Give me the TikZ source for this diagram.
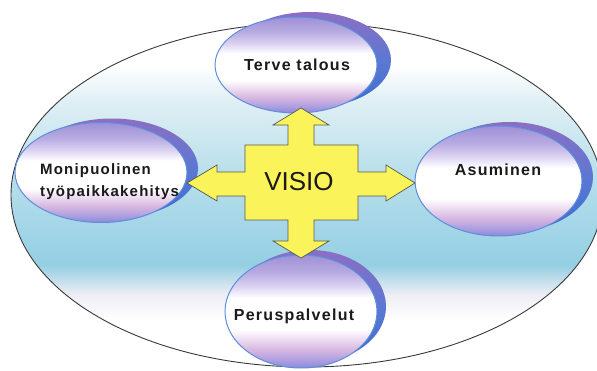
\documentclass[tikz,border=0pt]{standalone}
\usepackage{fontspec}
\setmainfont{Liberation Sans}
\newfontfamily\lblfont[LetterSpace=8]{Liberation Sans}
\definecolor{outl}{HTML}{3A3A3A}
\definecolor{pinkw}{HTML}{EEEEF5}
\definecolor{bla}{HTML}{95CFE2}
\definecolor{blb}{HTML}{A2D5E7}
\definecolor{blc}{HTML}{BFE2EC}
\definecolor{bld}{HTML}{E0F0F5}
\definecolor{buba}{HTML}{8C88D8}
\definecolor{bubb}{HTML}{A89CE0}
\definecolor{bubc}{HTML}{D6B6E0}
\definecolor{bubd}{HTML}{EEDFF2}
\definecolor{bube}{HTML}{DCD4F2}
\definecolor{bubf}{HTML}{B8ACE2}
\definecolor{bubg}{HTML}{9E90D6}
\definecolor{cra}{HTML}{3A6ED2}
\definecolor{crb}{HTML}{5C78D2}
\definecolor{crc}{HTML}{8C6EC4}
\definecolor{rimc}{HTML}{5E8EDC}
\definecolor{crossy}{HTML}{FBF35A}
\definecolor{crossl}{HTML}{5A5A4A}
\definecolor{txt}{HTML}{1A1A1A}
\pgfdeclareverticalshading{outerfill}{100bp}{color(0bp)=(white); color(31.8bp)=(white); color(35.5bp)=(pinkw); color(39.8bp)=(bla); color(44.9bp)=(blb); color(55bp)=(blc); color(63.8bp)=(bld); color(68.9bp)=(white); color(100bp)=(white)}
\pgfdeclareverticalshading{bubfill}{100bp}{color(0bp)=(buba); color(25bp)=(buba); color(28bp)=(bubb); color(33bp)=(bubc); color(38bp)=(bubd); color(42bp)=(white); color(56bp)=(white); color(61bp)=(bube); color(67bp)=(bubf); color(75bp)=(bubg); color(100bp)=(bubg)}
\pgfdeclareverticalshading{crescfill}{100bp}{color(0bp)=(cra); color(25bp)=(cra); color(50bp)=(crb); color(75bp)=(crc); color(100bp)=(crc)}
\begin{document}
\begin{tikzpicture}[x=1pt,y=-1pt,
  lbl/.style={text=txt,font=\lblfont\bfseries\fontsize{16}{22}\selectfont,inner sep=0pt,anchor=base},
  rim/.style={shade,shading=bubfill,draw=rimc,line width=1pt},
  cres/.style={shade,shading=crescfill},
  crossbox/.style={fill=crossy,draw=crossl,line width=0.7pt,line join=miter}]
\useasboundingbox (0,0) rectangle (597,371);
\clip (0,0) rectangle (597,371);
% outer ellipse
\path[shade,shading=outerfill,draw=outl,line width=0.9pt] (307,195) ellipse [x radius=296pt,y radius=172pt];
% top bubble
\path[cres] (310,60) ellipse [x radius=81pt,y radius=48pt];
\path[rim] (296,65) ellipse [x radius=81pt,y radius=48pt];
% left bubble
\path[cres] (112,168.5) ellipse [x radius=86pt,y radius=50pt];
\path[rim] (101,172.5) ellipse [x radius=86pt,y radius=50pt];
% right bubble
\path[cres] (509.5,177) ellipse [x radius=83.5pt,y radius=55pt];
\path[rim] (498.5,181) ellipse [x radius=83.5pt,y radius=55pt];
% bottom bubble
\path[cres] (310,306.5) ellipse [x radius=76pt,y radius=56.5pt];
\path[rim] (301,311.5) ellipse [x radius=76pt,y radius=56.5pt];
% labels
\node[lbl] (terve) at (297,71) {Terve talous};
\node[lbl] (asu) at (498,176) {Asuminen};
\node[lbl] (perus) at (294,320) {Peruspalvelut};
\node[text=txt,font=\lblfont\bfseries\fontsize{15}{22}\selectfont,inner sep=0pt,anchor=north west,align=left] (moni) at (40,163) {Monipuolinen\\työpaikkakehitys};
% cross
\path[crossbox] (245,145) -- (288,145) -- (288,125) -- (273,125) -- (301,108) -- (329,125) -- (314,125) -- (314,145) -- (358,145) -- (358,172) -- (386,172) -- (386,165) -- (415,183) -- (386,201) -- (386,196) -- (358,196) -- (358,220) -- (314,220) -- (314,241) -- (329,241) -- (301,258) -- (273,241) -- (288,241) -- (288,220) -- (245,220) -- (245,196) -- (217,196) -- (217,201) -- (187,183) -- (217,165) -- (217,172) -- (245,172) -- cycle;
\node[text=txt,font=\fontsize{26}{30}\selectfont,inner sep=0pt] (visio) at (299,182) {VISIO};
\end{tikzpicture}
\end{document}
